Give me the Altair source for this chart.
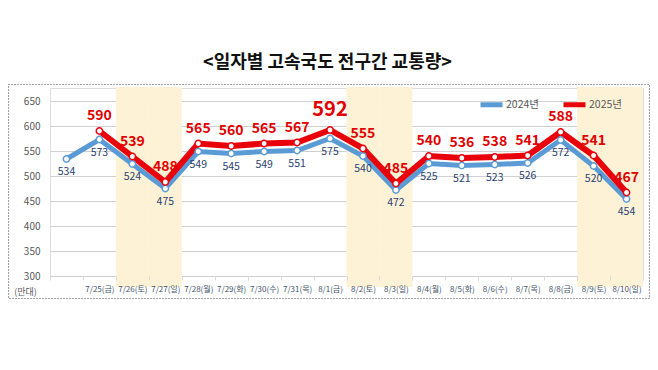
import altair as alt
import pandas as pd

FONT = "Noto Sans CJK KR"

dates = ["7/24(목)", "7/25(금)", "7/26(토)", "7/27(일)", "7/28(월)", "7/29(화)", "7/30(수)",
         "7/31(목)", "8/1(금)", "8/2(토)", "8/3(일)", "8/4(월)", "8/5(화)", "8/6(수)",
         "8/7(목)", "8/8(금)", "8/9(토)", "8/10(일)"]
values_2024 = [534, 573, 524, 475, 549, 545, 549, 551, 575, 540, 472, 525, 521, 523, 526, 572, 520, 454]
values_2025 = [None, 590, 539, 488, 565, 560, 565, 567, 592, 555, 485, 540, 536, 538, 541, 588, 541, 467]
weekend = ["7/26(토)", "7/27(일)", "8/2(토)", "8/3(일)", "8/9(토)", "8/10(일)"]
series = ["2024년", "2025년"]
y_ticks = [300, 350, 400, 450, 500, 550, 600, 650]

rows = []
for d, a, b in zip(dates, values_2024, values_2025):
    rows.append({"date": d, "series": series[0], "value": a})
    if b is not None:
        rows.append({"date": d, "series": series[1], "value": b})
df = pd.DataFrame(rows)
df["peak"] = (df["series"] == series[1]) & (df["value"] == max(v for v in values_2025 if v is not None))
df24 = df[df["series"] == series[0]]
df25 = df[df["series"] == series[1]]
df_weekend = pd.DataFrame({"date": weekend})

W, H = 593, 188
BLUE = "#5b9bd5"
RED = "#e8000b"

xscale = alt.Scale(type="band", domain=dates, paddingInner=0, paddingOuter=0)
yscale = alt.Scale(domain=[300, 676], nice=False, zero=False)

x_axis = alt.Axis(title=None, labelAngle=0, labelFontSize=8, labelColor="#44546a",
                  labelPadding=5, labelOverlap=False, domain=False, ticks=True,
                  tickColor="#d9d9d9", tickSize=4, tickBand="extent", grid=False,
                  labelExpr="datum.value == '7/24(목)' ? '' : datum.label", labelFont=FONT)
y_axis = alt.Axis(title="(만대)", titleAngle=0, titleX=-25, titleY=203, titleAlign="center",
                  titleBaseline="middle", titleFontSize=9, titleFontWeight="normal",
                  titleColor="#595959", titleFont=FONT,
                  values=y_ticks, tickCount=8, labelFontSize=10, labelColor="#595959",
                  labelPadding=10, labelOverlap=False, labelFont=FONT, domain=False,
                  ticks=False, grid=True, gridColor="#d0d0d0", gridWidth=1)

X = alt.X("date:N", scale=xscale, axis=x_axis, sort=dates)
Xc = alt.X("date:N", scale=xscale, sort=dates, bandPosition=0.5)
Y = alt.Y("value:Q", scale=yscale, axis=y_axis)

bands = alt.Chart(df_weekend).mark_rect(color="#fdf2d6").encode(
    x=X, y=alt.value(-1), y2=alt.value(H + 11)
)

color = alt.Color("series:N", scale=alt.Scale(domain=series, range=[BLUE, RED]),
                  legend=alt.Legend(title=None, orient="none", legendX=428, legendY=3,
                                    direction="horizontal", symbolType="stroke",
                                    symbolStrokeWidth=5, symbolSize=484,
                                    labelFontSize=10.5, labelColor="#595959", labelFont=FONT,
                                    labelOffset=1, columnPadding=14))

line24 = alt.Chart(df24).mark_line(strokeWidth=5).encode(x=Xc, y=Y, color=color)
line25 = alt.Chart(df25).mark_line(strokeWidth=6).encode(
    x=Xc, y=Y, color=alt.Color("series:N", legend=None)
)
pts24 = alt.Chart(df24).mark_point(filled=False, fill="white", fillOpacity=1, size=40,
                                   strokeWidth=1.5, stroke=BLUE, opacity=1).encode(x=Xc, y=Y)
pts25 = alt.Chart(df25).mark_point(filled=False, fill="white", fillOpacity=1, size=40,
                                   strokeWidth=1.5, stroke=RED, opacity=1).encode(x=Xc, y=Y)
lab24 = alt.Chart(df24).mark_text(dy=13, fontSize=10.5, color="#2a4170", font=FONT,
                                  baseline="middle").encode(x=Xc, y=Y, text="value:Q")
lab25 = alt.Chart(df25[~df25["peak"]]).mark_text(dy=-15, fontSize=14, fontWeight="bold",
                                                 color="#e00000", font=FONT,
                                                 baseline="middle").encode(x=Xc, y=Y, text="value:Q")
lab_peak = alt.Chart(df25[df25["peak"]]).mark_text(dy=-20, fontSize=20, fontWeight="bold",
                                                   color="#e00000", font=FONT,
                                                   baseline="middle").encode(x=Xc, y=Y, text="value:Q")

frame = alt.Chart(pd.DataFrame({"k": [0]})).mark_rect(
    fill=None, stroke="#444444", strokeWidth=1.2, strokeDash=[1, 2]
).encode(x=alt.value(-41.5), x2=alt.value(W + 6.5), y=alt.value(-3.5), y2=alt.value(H + 22.5))

chart = alt.layer(bands, line24, line25, pts24, pts25, lab24, lab25, lab_peak, frame).properties(
    width=W, height=H,
    padding={"left": 42, "top": 80, "right": 7, "bottom": 86},
    autosize=alt.AutoSizeParams(type="none"),
    title=alt.TitleParams("<일자별 고속국도 전구간 교통량>", fontSize=18, fontWeight="bold",
                          font=FONT, color="#111111", anchor="middle", dx=-19, offset=12),
).configure_view(stroke=None).configure(background="white")

chart.save("out.html", embed_options={"renderer": "svg", "actions": False})
